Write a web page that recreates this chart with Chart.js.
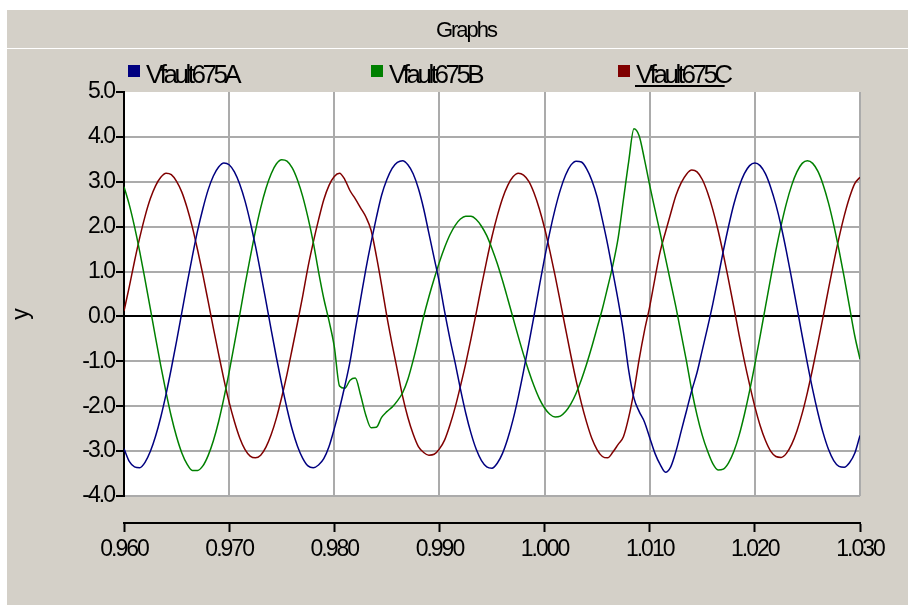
<!DOCTYPE html>
<html>
<head>
<meta charset="utf-8">
<script src="https://cdn.jsdelivr.net/npm/chart.js@4.4.1/dist/chart.umd.min.js"></script>
<style>
  html, body { margin: 0; padding: 0; background: #ffffff; }
  #wrap { width: 908px; height: 606px; }
</style>
</head>
<body>
<div id="wrap"><canvas id="graph" width="908" height="606"></canvas></div>
<script>
// sample times (s)
const times = [
  0.9600, 0.9605, 0.9610, 0.9615, 0.9620, 0.9625, 0.9630, 0.9635, 0.9640, 0.9645,
  0.9650, 0.9655, 0.9660, 0.9665, 0.9670, 0.9675, 0.9680, 0.9685, 0.9690, 0.9695,
  0.9700, 0.9705, 0.9710, 0.9715, 0.9720, 0.9725, 0.9730, 0.9735, 0.9740, 0.9745,
  0.9750, 0.9755, 0.9760, 0.9765, 0.9770, 0.9775, 0.9780, 0.9785, 0.9790, 0.9795,
  0.9800, 0.9805, 0.9810, 0.9815, 0.9820, 0.9825, 0.9830, 0.9835, 0.9840, 0.9845,
  0.9850, 0.9855, 0.9860, 0.9865, 0.9870, 0.9875, 0.9880, 0.9885, 0.9890, 0.9895,
  0.9900, 0.9905, 0.9910, 0.9915, 0.9920, 0.9925, 0.9930, 0.9935, 0.9940, 0.9945,
  0.9950, 0.9955, 0.9960, 0.9965, 0.9970, 0.9975, 0.9980, 0.9985, 0.9990, 0.9995,
  1.0000, 1.0005, 1.0010, 1.0015, 1.0020, 1.0025, 1.0030, 1.0035, 1.0040, 1.0045,
  1.0050, 1.0055, 1.0060, 1.0065, 1.0070, 1.0075, 1.0080, 1.0085, 1.0090, 1.0095,
  1.0100, 1.0105, 1.0110, 1.0115, 1.0120, 1.0125, 1.0130, 1.0135, 1.0140, 1.0145,
  1.0150, 1.0155, 1.0160, 1.0165, 1.0170, 1.0175, 1.0180, 1.0185, 1.0190, 1.0195,
  1.0200, 1.0205, 1.0210, 1.0215, 1.0220, 1.0225, 1.0230, 1.0235, 1.0240, 1.0245,
  1.0250, 1.0255, 1.0260, 1.0265, 1.0270, 1.0275, 1.0280, 1.0285, 1.0290, 1.0295,
  1.0300
];

const vfaultA = [
  -2.95, -3.23, -3.35, -3.37, -3.25, -3.01, -2.67, -2.24, -1.73, -1.16,
  -0.55, 0.09, 0.73, 1.34, 1.91, 2.40, 2.82, 3.13, 3.33, 3.42,
  3.38, 3.22, 2.95, 2.58, 2.11, 1.57, 0.97, 0.34, -0.30, -0.92,
  -1.51, -2.05, -2.52, -2.89, -3.16, -3.33, -3.37, -3.31, -3.17, -2.90,
  -2.50, -2.05, -1.55, -1.00, -0.30, 0.38, 1.05, 1.65, 2.20, 2.70,
  3.05, 3.30, 3.43, 3.47, 3.38, 3.18, 2.85, 2.40, 1.85, 1.30,
  0.75, 0.10, -0.50, -1.04, -1.62, -2.15, -2.60, -2.96, -3.21, -3.35,
  -3.38, -3.27, -3.05, -2.72, -2.30, -1.79, -1.22, -0.61, 0.02, 0.67,
  1.30, 1.88, 2.39, 2.82, 3.15, 3.37, 3.46, 3.44, 3.29, 3.03,
  2.66, 2.15, 1.60, 0.98, 0.35, -0.35, -1.20, -1.82, -2.12, -2.35,
  -2.70, -3.05, -3.30, -3.47, -3.35, -3.00, -2.55, -2.10, -1.65, -1.25,
  -0.75, -0.25, 0.28, 0.86, 1.46, 2.01, 2.50, 2.89, 3.18, 3.36,
  3.42, 3.36, 3.18, 2.88, 2.49, 2.01, 1.45, 0.84, 0.21, -0.43,
  -1.05, -1.63, -2.15, -2.60, -2.96, -3.21, -3.34, -3.36, -3.26, -3.05,
  -2.65
];

const vfaultB = [
  2.89, 2.49, 2.00, 1.44, 0.82, 0.18, -0.47, -1.10, -1.69, -2.23,
  -2.68, -3.04, -3.29, -3.43, -3.43, -3.33, -3.10, -2.77, -2.34, -1.82,
  -1.24, -0.61, 0.03, 0.69, 1.31, 1.90, 2.42, 2.85, 3.18, 3.40,
  3.49, 3.46, 3.31, 3.04, 2.67, 2.20, 1.65, 1.00, 0.40, -0.10,
  -0.67, -1.55, -1.60, -1.42, -1.37, -1.75, -2.20, -2.48, -2.47, -2.25,
  -2.12, -2.02, -1.88, -1.70, -1.40, -0.98, -0.50, 0.00, 0.44, 0.84,
  1.21, 1.54, 1.82, 2.03, 2.17, 2.23, 2.23, 2.16, 2.01, 1.80,
  1.51, 1.18, 0.80, 0.39, -0.03, -0.45, -0.85, -1.22, -1.55, -1.83,
  -2.04, -2.18, -2.24, -2.22, -2.12, -1.95, -1.71, -1.41, -1.06, -0.67,
  -0.25, 0.17, 0.65, 1.15, 1.75, 2.60, 3.45, 4.18, 4.02, 3.50,
  2.92, 2.38, 1.85, 1.30, 0.75, 0.20, -0.40, -1.00, -1.65, -2.20,
  -2.65, -3.00, -3.28, -3.42, -3.40, -3.26, -3.01, -2.65, -2.19, -1.66,
  -1.07, -0.44, 0.21, 0.85, 1.47, 2.03, 2.52, 2.92, 3.22, 3.41,
  3.47, 3.41, 3.23, 2.93, 2.53, 2.04, 1.48, 0.87, 0.22, -0.43,
  -0.95
];

const vfaultC = [
  0.12, 0.66, 1.23, 1.76, 2.23, 2.62, 2.91, 3.10, 3.19, 3.16,
  3.01, 2.77, 2.42, 1.99, 1.48, 0.93, 0.34, -0.26, -0.84, -1.40,
  -1.91, -2.34, -2.70, -2.96, -3.11, -3.15, -3.09, -2.91, -2.63, -2.26,
  -1.80, -1.29, -0.72, -0.14, 0.46, 1.10, 1.65, 2.15, 2.60, 2.92,
  3.12, 3.19, 3.05, 2.80, 2.62, 2.42, 2.22, 1.92, 1.35, 0.70,
  0.00, -0.62, -1.20, -1.78, -2.25, -2.62, -2.90, -3.03, -3.09, -3.07,
  -2.95, -2.75, -2.42, -2.02, -1.55, -1.05, -0.50, 0.08, 0.68, 1.25,
  1.78, 2.24, 2.63, 2.92, 3.11, 3.19, 3.15, 3.01, 2.75, 2.40,
  1.97, 1.46, 0.91, 0.32, -0.28, -0.87, -1.43, -1.93, -2.36, -2.72,
  -2.97, -3.12, -3.15, -3.02, -2.85, -2.68, -2.25, -1.67, -0.95, -0.32,
  0.22, 0.85, 1.45, 1.88, 2.30, 2.70, 2.98, 3.17, 3.26, 3.22,
  3.05, 2.76, 2.38, 1.92, 1.39, 0.81, 0.21, -0.41, -0.99, -1.52,
  -2.01, -2.43, -2.76, -3.00, -3.12, -3.14, -3.05, -2.85, -2.55, -2.16,
  -1.69, -1.16, -0.59, 0.00, 0.61, 1.20, 1.75, 2.24, 2.65, 2.96,
  3.10
];

const seriesNames = ['Vfault675A', 'Vfault675B', 'Vfault675C'];
const seriesColors = ['#000080', '#008000', '#800000'];

const xTickValues = [0.96, 0.97, 0.98, 0.99, 1.00, 1.01, 1.02, 1.03];
const xTickLabels = ['0.960', '0.970', '0.980', '0.990', '1.000', '1.010', '1.020', '1.030'];
const yTickValues = [-4, -3, -2, -1, 0, 1, 2, 3, 4, 5];
const yTickLabels = ['-4.0', '-3.0', '-2.0', '-1.0', '0.0', '1.0', '2.0', '3.0', '4.0', '5.0'];

const graphTitle = 'Graphs';
const yAxisTitle = 'y';

// the reference uses a condensed sans; use Liberation Sans Narrow if it is installed
function hasFont(name) {
  const ctx = document.createElement('canvas').getContext('2d');
  ctx.font = '20px monospace';
  const base = ctx.measureText('Vfault675A').width;
  ctx.font = '20px "' + name + '", monospace';
  return ctx.measureText('Vfault675A').width !== base;
}
const narrow = hasFont('Liberation Sans Narrow');
const family = narrow ? '"Liberation Sans Narrow", sans-serif' : '"Liberation Sans", Arial, sans-serif';
const squeeze = narrow ? '0px' : '-2px';
const legendSqueeze = narrow ? '-1.4px' : '-3.5px';

const gridGray = '#ababab';
const panelGray = '#d4d0c8';
const clear = 'rgba(0,0,0,0)';

const panelPlugin = {
  id: 'panel',
  beforeUpdate(chart) {
    chart.ctx.letterSpacing = squeeze;
  },
  beforeDraw(chart) {
    const { ctx, chartArea: a, width, height } = chart;
    ctx.save();
    ctx.fillStyle = '#ffffff';
    ctx.fillRect(0, 0, width, height);
    ctx.fillStyle = panelGray;
    ctx.fillRect(7, 10, width - 7, height - 11);
    ctx.fillStyle = '#ffffff';
    ctx.fillRect(7, 48, width - 7, 1);
    ctx.fillRect(a.left, a.top, a.right - a.left, a.bottom - a.top);

    ctx.letterSpacing = squeeze;
    ctx.fillStyle = '#000000';
    ctx.font = '22px ' + family;
    ctx.textAlign = 'center';
    ctx.textBaseline = 'middle';
    ctx.fillText(graphTitle, 466, 31);
    ctx.restore();
    ctx.letterSpacing = squeeze;
  },
  afterDraw(chart) {
    const ctx = chart.ctx;
    const legendX = [128, 371, 618];
    ctx.save();
    ctx.letterSpacing = legendSqueeze;
    ctx.font = '26px ' + family;
    ctx.textAlign = 'left';
    ctx.textBaseline = 'alphabetic';
    chart.data.datasets.forEach((ds, i) => {
      const x = legendX[i];
      ctx.fillStyle = ds.borderColor;
      ctx.fillRect(x, 65, 12, 12);
      ctx.fillStyle = '#000000';
      ctx.fillText(ds.label, x + 18, 82.5);
      if (i === chart.data.datasets.length - 1) {
        const w = ctx.measureText(ds.label).width;
        ctx.fillRect(x + 17, 85, w - 4, 2);
      }
    });

    // y axis title
    ctx.letterSpacing = squeeze;
    ctx.font = '23px ' + family;
    ctx.textAlign = 'center';
    ctx.textBaseline = 'middle';
    ctx.translate(22, 315);
    ctx.rotate(-Math.PI / 2);
    ctx.fillText(yAxisTitle, 0, 0);
    ctx.restore();
    ctx.letterSpacing = squeeze;
  }
};

const datasets = [vfaultA, vfaultB, vfaultC].map((vals, i) => ({
  label: seriesNames[i],
  data: times.map((t, k) => ({ x: t, y: vals[k] })),
  borderColor: seriesColors[i],
  backgroundColor: seriesColors[i],
  borderWidth: 1.5,
  pointRadius: 0,
  cubicInterpolationMode: 'monotone',
  fill: false
}));

new Chart(document.getElementById('graph'), {
  type: 'line',
  data: { datasets },
  plugins: [panelPlugin],
  options: {
    responsive: false,
    animation: false,
    devicePixelRatio: 1,
    layout: { padding: { top: 92, right: 48, bottom: 0, left: 0 } },
    plugins: {
      legend: { display: false },
      title: { display: false },
      tooltip: { enabled: false }
    },
    scales: {
      x: {
        type: 'linear',
        position: 'bottom',
        min: 0.96,
        max: 1.03,
        weight: 0,
        afterBuildTicks: s => { s.ticks = xTickValues.map(v => ({ value: v })); },
        afterFit: s => { s.height = 27; },
        ticks: { display: false },
        grid: {
          drawTicks: false,
          lineWidth: 2,
          color: c => (c.index === 0 ? clear : gridGray)
        },
        border: { display: false }
      },
      xAxis: {
        type: 'linear',
        position: 'bottom',
        min: 0.96,
        max: 1.03,
        weight: 1,
        afterBuildTicks: s => { s.ticks = xTickValues.map(v => ({ value: v })); },
        afterFit: s => { s.height = 83; },
        ticks: {
          color: '#000000',
          font: { family: family, size: 23 },
          padding: 4,
          maxRotation: 0,
          autoSkip: false,
          callback: (v, i) => xTickLabels[i]
        },
        grid: {
          drawOnChartArea: false,
          tickLength: 9,
          tickColor: '#000000',
          tickWidth: 2
        },
        border: { color: '#000000', width: 2 }
      },
      y: {
        type: 'linear',
        position: 'left',
        min: -4,
        max: 5,
        afterBuildTicks: s => { s.ticks = yTickValues.map(v => ({ value: v })); },
        afterFit: s => { s.width = 124; },
        ticks: {
          color: '#000000',
          font: { family: family, size: 23 },
          padding: 2,
          callback: v => yTickLabels[yTickValues.indexOf(v)]
        },
        grid: {
          lineWidth: 2,
          tickLength: 8,
          tickColor: '#000000',
          tickWidth: 2,
          color: c => {
            const v = c.tick ? c.tick.value : null;
            if (v === 0) return '#000000';
            if (v === 5) return clear;
            return gridGray;
          }
        },
        border: { color: '#000000', width: 2 }
      }
    }
  }
});
</script>
</body>
</html>
